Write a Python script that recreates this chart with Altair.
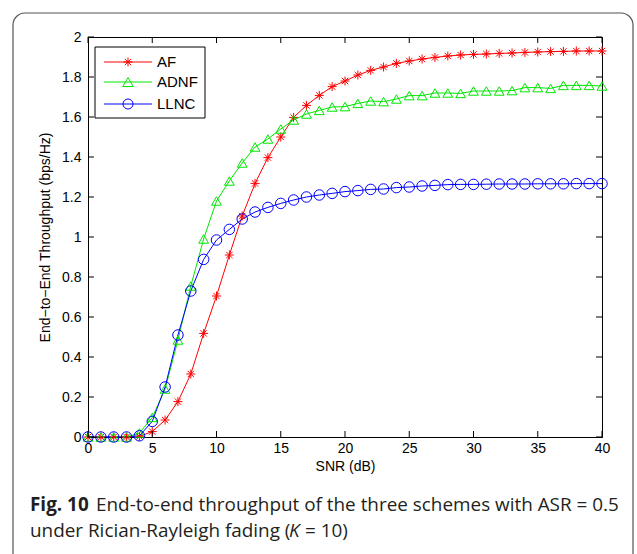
import altair as alt
import pandas as pd

# ---- data ----
snr = list(range(0, 41))
af = [0, 0, 0, 0, 0.003, 0.027, 0.085, 0.177, 0.315, 0.518, 0.705, 0.91, 1.105, 1.268, 1.397,
      1.50, 1.598, 1.658, 1.708, 1.752, 1.78, 1.81, 1.833, 1.85, 1.868, 1.88, 1.89, 1.898,
      1.905, 1.91, 1.913, 1.915, 1.918, 1.92, 1.923, 1.925, 1.927, 1.928, 1.93, 1.93, 1.93]
adnf = [0, 0, 0, 0, 0.02, 0.098, 0.24, 0.485, 0.755, 0.99, 1.18, 1.28, 1.37, 1.45, 1.49,
        1.54, 1.585, 1.615, 1.633, 1.65, 1.652, 1.668, 1.68, 1.677, 1.69, 1.707, 1.707, 1.72,
        1.72, 1.718, 1.73, 1.73, 1.73, 1.732, 1.747, 1.747, 1.743, 1.758, 1.758, 1.758, 1.755]
llnc = [0, 0, 0, 0, 0.006, 0.078, 0.25, 0.51, 0.73, 0.888, 0.985, 1.038, 1.09, 1.125, 1.148,
        1.168, 1.185, 1.20, 1.21, 1.218, 1.227, 1.232, 1.238, 1.24, 1.247, 1.25, 1.255, 1.258,
        1.262, 1.263, 1.263, 1.264, 1.265, 1.265, 1.265, 1.266, 1.266, 1.266, 1.267, 1.267, 1.267]

series_names = ["AF", "ADNF", "LLNC"]
series_colors = ["#ff0000", "#00e600", "#0000ff"]
STAR = "M-1,0L1,0M0,-1L0,1M-0.7,-0.7L0.7,0.7M-0.7,0.7L0.7,-0.7"
series_shapes = [STAR, "triangle-up", "circle"]
series_sizes = [81, 110, 100]

x_ticks = [0, 5, 10, 15, 20, 25, 30, 35, 40]
y_ticks = [0, 0.2, 0.4, 0.6, 0.8, 1.0, 1.2, 1.4, 1.6, 1.8, 2.0]

caption1_bold = "Fig. 10"
caption1_rest = "End-to-end throughput of the three schemes with ASR = 0.5"
caption2_a = "under Rician-Rayleigh fading ("
caption2_k = "K"
caption2_b = "= 10)"

W, H = 514, 400
FONT = "Liberation Sans"
CAP_FONT = "Open Sans"
CAP_SIZE = 18.9

rows = []
for name, vals in zip(series_names, [af, adnf, llnc]):
    for s, v in zip(snr, vals):
        rows.append({"snr": s, "thr": v, "scheme": name})
df = pd.DataFrame(rows)

xs = alt.Scale(domain=[0, 40], nice=False, zero=False)
ys = alt.Scale(domain=[0, 2], nice=False, zero=False)
color_scale = alt.Scale(domain=series_names, range=series_colors)
shape_scale = alt.Scale(domain=series_names, range=series_shapes)
size_scale = alt.Scale(domain=series_names, range=series_sizes)

x_axis = alt.Axis(values=x_ticks, title="SNR (dB)", titleX=257, titleY=29,
                  titleBaseline="middle", labelPadding=4, tickCount=9,
                  labelOverlap=False, labelFlush=False,
                  labelExpr="format(datum.value, '~g')")
y_axis = alt.Axis(values=y_ticks, title="End\u2212to\u2212End Throughput (bps/Hz)",
                  titleX=-43, titleY=200, titleAngle=-90, titleAlign="center",
                  titleBaseline="middle", labelPadding=7, tickCount=11,
                  labelOverlap=False, labelFlush=False,
                  labelExpr="format(datum.value, '~g')")

def X(field):
    return alt.X(field, type="quantitative", scale=xs, axis=x_axis)

def Y(field):
    return alt.Y(field, type="quantitative", scale=ys, axis=y_axis)

frame = alt.Chart(pd.DataFrame({"a": [0]})).mark_rect(
    fill="transparent", stroke="#555555", strokeWidth=1.2, cornerRadius=12
).encode(x=alt.value(-75), x2=alt.value(545), y=alt.value(-24), y2=alt.value(560))

base = alt.Chart(df)
lines = base.mark_line(strokeWidth=1, clip=True).encode(
    x=X("snr"), y=Y("thr"),
    color=alt.Color("scheme:N", scale=color_scale, legend=None),
    detail="scheme:N",
)
points = base.mark_point(filled=False, strokeWidth=1, opacity=1).encode(
    x=X("snr"), y=Y("thr"),
    color=alt.Color("scheme:N", scale=color_scale, legend=None),
    shape=alt.Shape("scheme:N", scale=shape_scale, legend=None),
    size=alt.Size("scheme:N", scale=size_scale, legend=None),
    order=alt.Order("order:Q"),
).transform_calculate(order="datum.scheme == 'AF' ? 0 : (datum.scheme == 'ADNF' ? 1 : 2)")

# inward ticks on all four sides
xt = alt.Chart(pd.DataFrame({"snr": x_ticks}))
yt = alt.Chart(pd.DataFrame({"thr": y_ticks}))
tick_bottom = xt.mark_rule(color="black", strokeWidth=1).encode(
    x=X("snr"), y=alt.value(H), y2=alt.value(H - 6))
tick_top = xt.mark_rule(color="black", strokeWidth=1).encode(
    x=X("snr"), y=alt.value(0), y2=alt.value(6))
tick_left = yt.mark_rule(color="black", strokeWidth=1).encode(
    y=Y("thr"), x=alt.value(0), x2=alt.value(6))
tick_right = yt.mark_rule(color="black", strokeWidth=1).encode(
    y=Y("thr"), x=alt.value(W), x2=alt.value(W - 6))

# legend box
one = pd.DataFrame({"a": [0]})
legend_layers = [alt.Chart(one).mark_rect(fill="white", stroke="black", strokeWidth=1).encode(
    x=alt.value(7), x2=alt.value(117), y=alt.value(10), y2=alt.value(81))]
legend_y = [25, 45, 67]
for name, col, shp, sz, ly in zip(series_names, series_colors, series_shapes, series_sizes, legend_y):
    legend_layers.append(alt.Chart(one).mark_rule(color=col, strokeWidth=1).encode(
        x=alt.value(16), x2=alt.value(64), y=alt.value(ly)))
    legend_layers.append(alt.Chart(one).mark_point(
        shape=shp, size=sz, filled=False, color=col, strokeWidth=1, opacity=1).encode(
        x=alt.value(40), y=alt.value(ly)))
    legend_layers.append(alt.Chart(pd.DataFrame({"n": [name]})).mark_text(
        align="left", baseline="middle", font=FONT, fontSize=15, color="black").encode(
        x=alt.value(69), y=alt.value(ly), text="n:N"))

# caption
def cap(text, x, y, weight="normal", style="normal"):
    return alt.Chart(pd.DataFrame({"c": [text]})).mark_text(
        align="left", baseline="alphabetic", font=CAP_FONT, fontSize=CAP_SIZE,
        fontWeight=weight, fontStyle=style, color="#231f20").encode(
        x=alt.value(x), y=alt.value(y), text="c:N")

captions = [
    cap(caption1_bold, -58, 473.5, weight="bold"),
    cap(caption1_rest, 8, 473.5),
    cap(caption2_a, -58, 499.5),
    cap(caption2_k, 201, 499.5, style="italic"),
    cap(caption2_b, 217, 499.5),
]

chart = alt.layer(
    frame, lines, points, tick_bottom, tick_top, tick_left, tick_right,
    *legend_layers, *captions
).properties(
    width=W, height=H,
    background="white",
    autosize=alt.AutoSizeParams(type="none"),
    padding={"left": 88, "top": 37, "right": 35, "bottom": 117},
).configure_view(stroke="black", strokeWidth=1).configure_axis(
    grid=False, ticks=False, tickSize=0, domainColor="black", domainWidth=1,
    labelFont=FONT, labelFontSize=14, labelColor="black",
    titleFont=FONT, titleFontSize=14, titleFontWeight="normal", titleColor="black",
)

chart.save("out.html", embed_options={"renderer": "svg", "actions": False})
